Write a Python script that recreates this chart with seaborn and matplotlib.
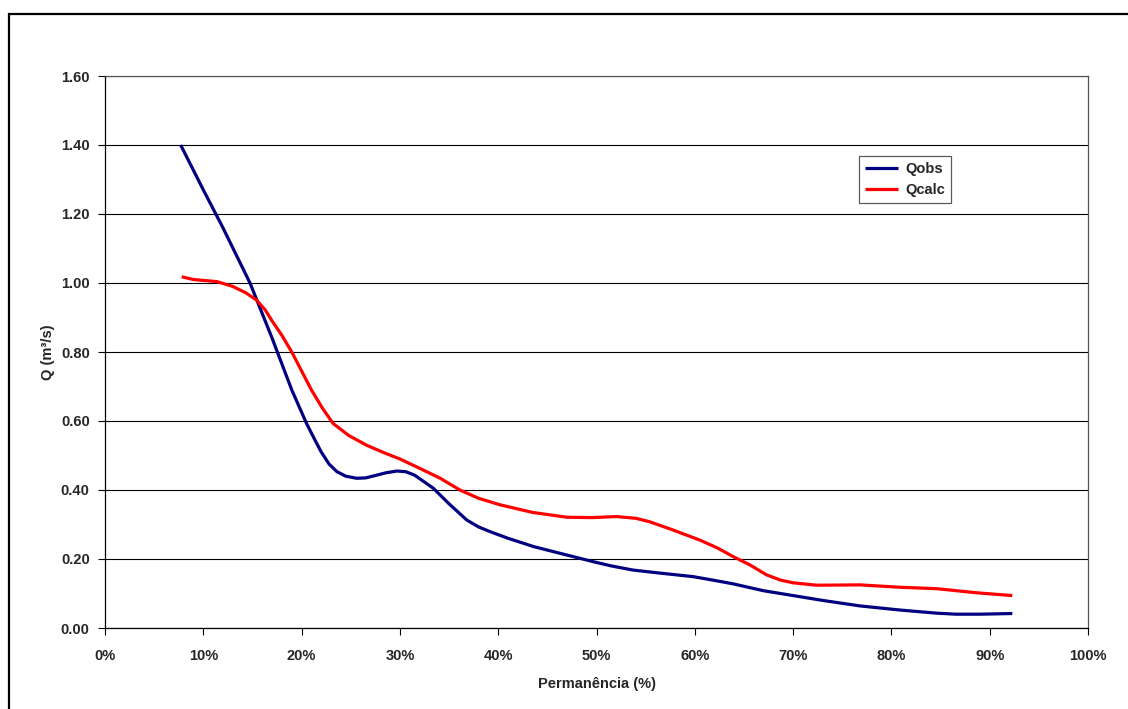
import numpy as np
import pandas as pd
import matplotlib
matplotlib.use('Agg')
import matplotlib.pyplot as plt
from matplotlib.patches import Rectangle
from matplotlib.ticker import FuncFormatter, MultipleLocator
import seaborn as sns

# curvas de permanência
perm_obs = [7.7, 10, 12, 14.75, 17, 19, 20.5, 21.3, 22, 22.8, 23.6, 24.5, 25.6, 26.5,
            27.5, 28.6, 29.7, 30.6, 31.5, 33.4, 35, 36.8, 38, 39.2, 41, 43.6, 46.5,
            49.7, 51.5, 53.7, 56.5, 59.8, 61.8, 63.9, 67, 70, 73, 76.8, 80.9, 84.6,
            86.6, 89, 92.3]
q_obs = [1.40, 1.27, 1.16, 1.00, 0.84, 0.69, 0.593, 0.548, 0.51, 0.475, 0.453, 0.440,
         0.434, 0.435, 0.442, 0.450, 0.455, 0.453, 0.443, 0.405, 0.360, 0.313, 0.293,
         0.279, 0.260, 0.236, 0.215, 0.192, 0.180, 0.168, 0.159, 0.149, 0.139, 0.128,
         0.108, 0.094, 0.080, 0.064, 0.052, 0.043, 0.040, 0.040, 0.042]

perm_calc = [7.8, 9, 11.4, 13, 14.3, 15.4, 16.3, 17, 18, 19, 20, 21, 22.1, 23.2, 24.8,
             26.6, 28.3, 30, 32, 34.1, 36.1, 38, 40.2, 43.5, 47, 49.5, 52, 54, 55.4,
             57.5, 60.5, 62.3, 63.9, 65.6, 67.3, 68.7, 70, 72.4, 76.8, 80.9, 84.6,
             88.7, 92.3]
q_calc = [1.018, 1.01, 1.004, 0.99, 0.972, 0.951, 0.922, 0.89, 0.848, 0.80, 0.745,
          0.69, 0.638, 0.593, 0.558, 0.530, 0.509, 0.490, 0.463, 0.434, 0.40, 0.376,
          0.357, 0.335, 0.321, 0.320, 0.323, 0.318, 0.308, 0.287, 0.255, 0.232, 0.207,
          0.183, 0.154, 0.139, 0.131, 0.124, 0.125, 0.118, 0.114, 0.102, 0.094]

df = pd.concat([
    pd.DataFrame({'perm': perm_obs, 'q': q_obs, 'serie': 'Qobs'}),
    pd.DataFrame({'perm': perm_calc, 'q': q_calc, 'serie': 'Qcalc'}),
])

sns.set_style("white")
plt.rcParams['font.family'] = ['Liberation Sans', 'DejaVu Sans']
plt.rcParams['font.weight'] = 'bold'

fig = plt.figure(figsize=(11.28, 7.09), dpi=100)
ax = fig.add_axes([105 / 1128, 1 - 628 / 709, 983 / 1128, 552 / 709])

sns.lineplot(data=df, x='perm', y='q', hue='serie', sort=False, estimator=None,
             palette={'Qobs': '#000080', 'Qcalc': '#FF0000'}, linewidth=2.3, ax=ax,
             solid_joinstyle='round', solid_capstyle='butt')

ax.set_xlim(0, 100)
ax.set_ylim(0, 1.6)
ax.xaxis.set_major_locator(MultipleLocator(10))
ax.yaxis.set_major_locator(MultipleLocator(0.2))
ax.xaxis.set_major_formatter(FuncFormatter(lambda v, p: f"{v:.0f}%"))
ax.yaxis.set_major_formatter(FuncFormatter(lambda v, p: f"{v:.2f}"))
ax.grid(axis='y', color='black', linewidth=0.8)
ax.grid(axis='x', visible=False)
ax.set_axisbelow(True)
for s in ax.spines.values():
    s.set_visible(True)
    s.set_color('black')
    s.set_linewidth(0.9)
ax.spines['right'].set_color('#555555')
ax.spines['top'].set_color('#555555')

ax.tick_params(axis='both', which='major', direction='out', length=5, width=0.8,
               color='black', labelsize=10.5, left=True, bottom=True)
ax.tick_params(axis='x', pad=10)
ax.tick_params(axis='y', pad=6)
for lab in ax.get_xticklabels() + ax.get_yticklabels():
    lab.set_fontweight('bold')

ax.set_xlabel("Permanência (%)", fontsize=10.5, fontweight='bold', labelpad=10)
ax.set_ylabel("Q (m³/s)", fontsize=10.5, fontweight='bold', labelpad=4)

leg = ax.legend(loc='upper left', bbox_to_anchor=(0.767, 0.855), borderaxespad=0,
                frameon=True, fancybox=False, handlelength=2.3, handletextpad=0.5,
                borderpad=0.4, labelspacing=0.5, prop={'weight': 'bold', 'size': 10.5})
leg.get_frame().set_edgecolor('#333333')
leg.get_frame().set_linewidth(0.9)
for ln in leg.get_lines():
    ln.set_linewidth(2.3)

# moldura externa do gráfico
fig.patches.append(Rectangle((9 / 1128, -0.2), 1.2, 1 - 14 / 709 + 0.2,
                             transform=fig.transFigure, fill=False,
                             edgecolor='black', linewidth=1.6, clip_on=False))

fig.savefig('out.png', dpi=100)
